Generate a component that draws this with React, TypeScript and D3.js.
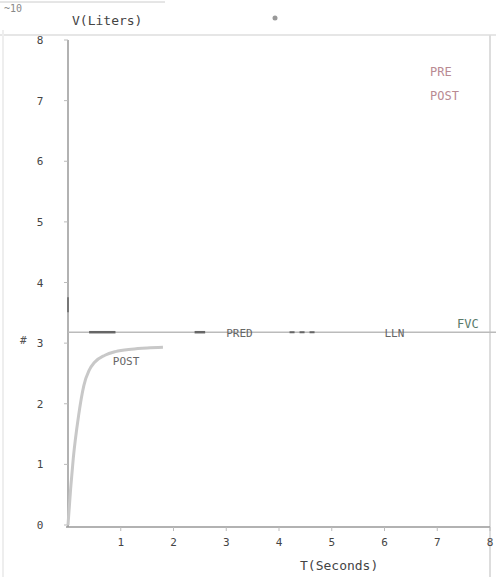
import React from "react";
import * as d3 from "d3";

const W = 496;
const H = 577;

const xTicks = [1, 2, 3, 4, 5, 6, 7, 8];
const yTicks = [0, 1, 2, 3, 4, 5, 6, 7, 8];

// POST curve: time (s), volume (L)
const postT = [0, 0.05, 0.1, 0.2, 0.3, 0.4, 0.5, 0.7, 0.9, 1.2, 1.5, 1.8];
const postV = [0, 0.6, 1.1, 1.8, 2.3, 2.55, 2.68, 2.8, 2.86, 2.9, 2.92, 2.93];

const fvcValue = 3.18;
const predLabels = ["PRED", "LLN"];
const legendLabels = ["PRE", "POST"];

export default function App() {
  const x = d3.scaleLinear().domain([0, 8]).range([68, 490]);
  const y = d3.scaleLinear().domain([0, 8]).range([525, 40]);
  const line = d3
    .line<number>()
    .x((_, i) => x(postT[i]))
    .y((d) => y(d))
    .curve(d3.curveMonotoneX);

  const font = "DejaVu Sans Mono, monospace";
  return (
    <svg
      width={W}
      height={H}
      style={{ position: "absolute", left: 0, top: 0, background: "#fff" }}
    >
      <rect width={W} height={H} fill="#fff" />
      {/* top strip */}
      <line x1={0} x2={165} y1={2} y2={2} stroke="#ccc" />
      <text x={4} y={12} fontFamily={font} fontSize={10} fill="#888">~10</text>
      <circle cx={275} cy={18} r={2.5} fill="#999" />
      <line x1={0} x2={496} y1={35} y2={35} stroke="#e6e6e6" strokeWidth={2} />
      <line x1={3} x2={3} y1={30} y2={577} stroke="#eee" strokeWidth={2} />
      {/* right border */}
      <line x1={490} x2={490} y1={35} y2={577} stroke="#ddd" strokeWidth={2} />
      {/* y axis label */}
      <text x={72} y={25} fontFamily={font} fontSize={13} fill="#444">V(Liters)</text>
      {/* axes */}
      <line x1={x(0)} x2={x(0)} y1={40} y2={y(0) + 2} stroke="#999" strokeWidth={1.5} />
      <line x1={x(0) - 2} x2={490} y1={y(0) + 2} y2={y(0) + 2} stroke="#999" strokeWidth={1.5} />
      {yTicks.map((t) => (
        <g key={"y" + t}>
          <line x1={x(0) - 4} x2={x(0)} y1={y(t)} y2={y(t)} stroke="#bbb" />
          <text x={40} y={y(t) + 4} fontFamily={font} fontSize={11} fill="#444" textAnchor="middle">
            {t}
          </text>
        </g>
      ))}
      {xTicks.map((t) => (
        <g key={"x" + t}>
          <line x1={x(t)} x2={x(t)} y1={y(0) + 2} y2={y(0) + 6} stroke="#bbb" />
          <text x={x(t)} y={546} fontFamily={font} fontSize={11} fill="#444" textAnchor="middle">
            {t}
          </text>
        </g>
      ))}
      <text x={300} y={570} fontFamily={font} fontSize={13} fill="#444">T(Seconds)</text>
      {/* marker on y axis */}
      <line x1={x(0)} x2={x(0)} y1={y(fvcValue) - 35} y2={y(fvcValue) - 20} stroke="#777" strokeWidth={2} />
      <text x={20} y={y(fvcValue) + 12} fontFamily={font} fontSize={11} fill="#555">#</text>
      {/* FVC line */}
      <line x1={x(0)} x2={496} y1={y(fvcValue)} y2={y(fvcValue)} stroke="#bbb" strokeWidth={1.5} />
      <line x1={x(0.4)} x2={x(0.9)} y1={y(fvcValue)} y2={y(fvcValue)} stroke="#666" strokeWidth={2.5} />
      <line x1={x(2.4)} x2={x(2.6)} y1={y(fvcValue)} y2={y(fvcValue)} stroke="#666" strokeWidth={2.5} />
      <line x1={x(4.2)} x2={x(4.7)} y1={y(fvcValue)} y2={y(fvcValue)} stroke="#666" strokeWidth={2} strokeDasharray="5 5" />
      <text x={x(3.0)} y={y(fvcValue) + 5} fontFamily={font} fontSize={11} fill="#666">{predLabels[0]}</text>
      <text x={x(6.0)} y={y(fvcValue) + 5} fontFamily={font} fontSize={11} fill="#666">{predLabels[1]}</text>
      <text x={457} y={y(fvcValue) - 4} fontFamily={font} fontSize={12} fill="#5a7a6a">FVC</text>
      {/* POST curve */}
      <path d={line(postV) || ""} fill="none" stroke="#c8c8c8" strokeWidth={3} />
      <text x={x(0.85)} y={y(postV[postV.length - 1]) + 18} fontFamily={font} fontSize={11} fill="#666">
        POST
      </text>
      {/* legend */}
      <text x={430} y={76} fontFamily={font} fontSize={12} fill="#b98a92">{legendLabels[0]}</text>
      <text x={430} y={100} fontFamily={font} fontSize={12} fill="#b98a92">{legendLabels[1]}</text>
    </svg>
  );
}
